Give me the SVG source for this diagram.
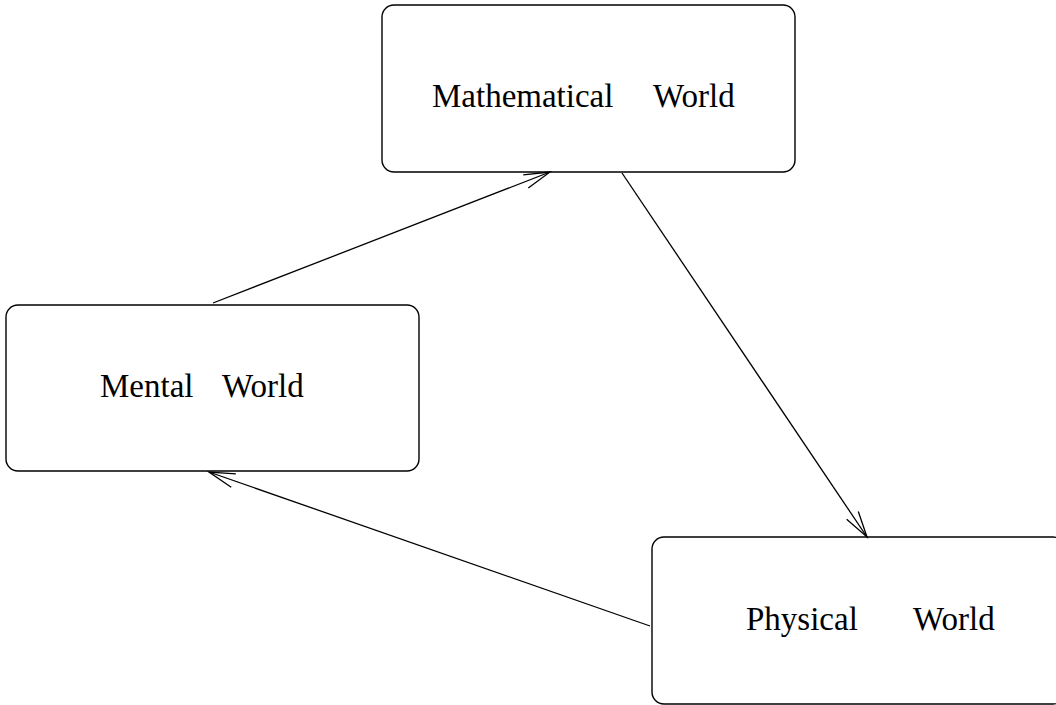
<svg xmlns="http://www.w3.org/2000/svg" width="1056" height="705" viewBox="0 0 1056 705">
<style>
.box{fill:#fff;stroke:#000;stroke-width:1.4}
.lbl{font-family:"Liberation Serif","Times New Roman",serif;font-size:33px;fill:#000}
.edge{fill:none;stroke:#000;stroke-width:1.3}
</style>
<defs>
<marker id="arr" markerUnits="userSpaceOnUse" viewBox="-30 -10 32 20" refX="0" refY="0" markerWidth="32" markerHeight="20" orient="auto" overflow="visible">
<path d="M-26,-7 L0,0 L-26,7" fill="none" stroke="#000" stroke-width="1.3"/>
</marker>
</defs>
<rect width="1056" height="705" fill="#fff"/>
<g id="math">
<rect class="box" x="382" y="5" width="413" height="167" rx="12"/>
<text class="lbl" x="432" y="107">Mathematical</text>
<text class="lbl" x="653" y="107">World</text>
</g>
<g id="mental">
<rect class="box" x="6" y="305" width="413" height="166" rx="12"/>
<text class="lbl" x="100" y="397">Mental</text>
<text class="lbl" x="222" y="397">World</text>
</g>
<g id="physical">
<rect class="box" x="652" y="537" width="413" height="167" rx="12"/>
<text class="lbl" x="746" y="630">Physical</text>
<text class="lbl" x="913" y="630">World</text>
</g>
<g id="connectors">
<line class="edge" x1="213" y1="303" x2="550" y2="172" marker-end="url(#arr)"/>
<line class="edge" x1="622" y1="173" x2="867" y2="537" marker-end="url(#arr)"/>
<line class="edge" x1="650" y1="626" x2="209" y2="472" marker-end="url(#arr)"/>
</g>
</svg>
